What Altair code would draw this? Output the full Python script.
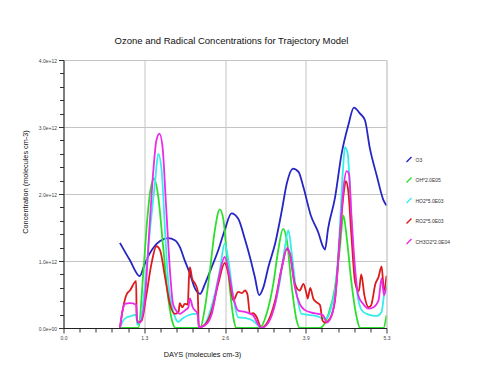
import altair as alt
import pandas as pd

FONT = "Liberation Sans"
TITLE = "Ozone and Radical Concentrations for Trajectory Model"
X_TITLE = "DAYS (molecules cm-3)"
Y_TITLE = "Concentration (molecules cm-3)"

SERIES = ["O3", "OH*2.0E05", "HO2*5.0E03", "RO2*5.0E03", "CH3O2*2.0E04"]
COLORS = ["#2626c4", "#2ede2e", "#38ecec", "#dc1c1c", "#ea2cea"]

# values in units of 1e12 molecules cm-3
O3_X = [0.917, 1.08, 1.24, 1.31, 1.40, 1.57, 1.70, 1.81, 1.89, 1.97, 2.055, 2.137, 2.22, 2.30, 2.41,
        2.515, 2.62, 2.73, 2.84, 2.95, 3.03, 3.11, 3.18, 3.25, 3.33, 3.44, 3.55, 3.63, 3.73, 3.82,
        3.90, 4.02, 4.14, 4.22, 4.25, 4.30, 4.41, 4.52, 4.63, 4.72, 4.82, 4.90, 4.98, 5.09, 5.20, 5.25]
O3_Y = [1.27, 1.01, 0.775, 0.93, 1.11, 1.30, 1.34, 1.31, 1.21, 1.01, 0.81, 0.59, 0.51, 0.66, 0.91,
        1.16, 1.46, 1.71, 1.63, 1.32, 1.06, 0.76, 0.49, 0.61, 0.91, 1.26, 1.76, 2.16, 2.38, 2.33,
        2.10, 1.68, 1.43, 1.21, 1.17, 1.48, 1.93, 2.60, 3.03, 3.29, 3.20, 3.10, 2.68, 2.28, 1.91, 1.83]

OH_X = [0.917, 1.215, 1.30, 1.36, 1.42, 1.475, 1.54, 1.62, 1.70, 1.78, 1.82, 2.22, 2.30, 2.38, 2.46,
        2.54, 2.60, 2.68, 2.76, 2.81, 3.19, 3.30, 3.41, 3.49, 3.57, 3.63, 3.71, 3.79, 3.84, 4.17,
        4.30, 4.41, 4.49, 4.55, 4.60, 4.68, 4.77, 4.82, 5.20, 5.25]
OH_Y = [0, 0, 0.86, 1.61, 2.10, 2.23, 1.96, 1.21, 0.46, 0.06, 0, 0, 0.31, 0.86, 1.46,
        1.77, 1.61, 0.81, 0.16, 0, 0, 0.21, 0.66, 1.16, 1.48, 1.31, 0.61, 0.11, 0, 0,
        0.19, 0.59, 1.18, 1.68, 1.38, 0.68, 0.14, 0, 0, 0.19]

HO2_X = [0.917, 0.97, 1.03, 1.11, 1.18, 1.20, 1.25, 1.32, 1.405, 1.49, 1.54, 1.595, 1.65, 1.70, 1.78,
         1.84, 1.87, 1.92, 2.03, 2.14, 2.18, 2.20, 2.27, 2.35, 2.46, 2.54, 2.62, 2.68, 2.76, 2.84,
         2.95, 3.08, 3.16, 3.21, 3.30, 3.41, 3.52, 3.60, 3.655, 3.71, 3.79, 3.87, 3.95, 4.03, 4.14,
         4.22, 4.28, 4.36, 4.44, 4.49, 4.54, 4.575, 4.62, 4.66, 4.71, 4.77, 4.85, 4.93, 5.00, 5.09,
         5.17, 5.21, 5.25]
HO2_Y = [0, 0.11, 0.16, 0.18, 0.20, 0.05, 0.10, 0.61, 1.46, 2.20, 2.60, 2.35, 1.46, 0.71, 0.26,
         0.11, 0.09, 0.13, 0.19, 0.21, 0.21, 0.01, 0.03, 0.16, 0.51, 0.86, 1.26, 1.01, 0.46, 0.16,
         0.15, 0.11, 0.04, 0, 0.06, 0.26, 0.71, 1.21, 1.46, 1.11, 0.51, 0.21, 0.20, 0.19, 0.17,
         0.14, 0.15, 0.34, 0.78, 1.48, 2.33, 2.70, 2.60, 1.98, 1.08, 0.54, 0.26, 0.21, 0.19, 0.18,
         0.24, 0.49, 0.64]

RO2_X = [0.917, 0.97, 1.03, 1.08, 1.18, 1.19, 1.215, 1.27, 1.35, 1.43, 1.51, 1.57, 1.65, 1.73, 1.81,
         1.87, 1.89, 1.93, 1.97, 2.02, 2.04, 2.055, 2.09, 2.14, 2.18, 2.20, 2.30, 2.41, 2.515, 2.62,
         2.68, 2.76, 2.84, 2.90, 2.95, 2.99, 3.03, 3.08, 3.14, 3.19, 3.21, 3.33, 3.44, 3.55, 3.63,
         3.68, 3.76, 3.84, 3.90, 3.95, 3.97, 4.01, 4.06, 4.12, 4.17, 4.21, 4.25, 4.33, 4.41, 4.49,
         4.55, 4.59, 4.63, 4.68, 4.74, 4.80, 4.84, 4.89, 4.96, 5.00, 5.07, 5.12, 5.17, 5.21, 5.25]
RO2_Y = [0, 0.31, 0.51, 0.56, 0.70, 0.16, 0.08, 0.11, 0.51, 0.96, 1.22, 1.16, 0.76, 0.36, 0.21,
         0.24, 0.37, 0.31, 0.36, 0.35, 0.76, 0.91, 0.74, 0.66, 0.56, 0.01, 0.05, 0.26, 0.66, 0.97,
         0.81, 0.41, 0.54, 0.52, 0.56, 0.50, 0.21, 0.22, 0.16, 0.04, 0, 0.11, 0.41, 0.91, 1.18,
         1.11, 0.66, 0.56, 0.66, 0.51, 0.44, 0.60, 0.44, 0.38, 0.34, 0.11, 0.08, 0.14, 0.39, 1.33,
         1.98, 2.19, 2.03, 1.38, 0.68, 0.55, 0.80, 0.49, 0.31, 0.34, 0.66, 0.76, 0.92, 0.56, 0.78]

CH3O2_X = [0.917, 0.96, 1.00, 1.08, 1.18, 1.20, 1.24, 1.32, 1.405, 1.46, 1.51, 1.56, 1.61, 1.665, 1.73,
           1.78, 1.84, 1.89, 1.97, 2.03, 2.055, 2.10, 2.18, 2.20, 2.30, 2.41, 2.515, 2.62, 2.68, 2.76,
           2.84, 2.95, 3.08, 3.16, 3.21, 3.33, 3.44, 3.55, 3.64, 3.69, 3.76, 3.84, 3.92, 4.03, 4.14,
           4.22, 4.28, 4.36, 4.44, 4.49, 4.55, 4.60, 4.64, 4.68, 4.74, 4.79, 4.87, 4.96, 5.04, 5.12,
           5.17, 5.21, 5.25]
CH3O2_Y = [0, 0.26, 0.36, 0.37, 0.35, 0.11, 0.08, 0.41, 1.61, 2.35, 2.80, 2.90, 2.70, 1.86, 0.86,
           0.36, 0.25, 0.21, 0.26, 0.31, 0.44, 0.31, 0.21, 0.01, 0.04, 0.21, 0.71, 1.06, 0.86, 0.46,
           0.26, 0.24, 0.19, 0.06, 0, 0.08, 0.36, 0.91, 1.20, 1.06, 0.61, 0.36, 0.27, 0.23, 0.21,
           0.19, 0.08, 0.19, 0.68, 1.33, 2.08, 2.34, 2.30, 1.68, 0.88, 0.49, 0.36, 0.29, 0.31, 0.41,
           0.74, 0.49, 0.61]

X_TICKS = [i * 0.2625 for i in range(21)]
Y_TICKS = [i * 2e11 for i in range(21)]

rows = []
for name, xs, ys in zip(SERIES, [O3_X, OH_X, HO2_X, RO2_X, CH3O2_X],
                        [O3_Y, OH_Y, HO2_Y, RO2_Y, CH3O2_Y]):
    for i, (x, y) in enumerate(zip(xs, ys)):
        rows.append({"series": name, "day": x, "conc": y * 1e12, "idx": i})
df = pd.DataFrame(rows)

x_major = "abs(datum.value/1.3125 - round(datum.value/1.3125)) < 1e-6"
y_major = "datum.value % 1e12 === 0"

x_axis = alt.Axis(
    values=X_TICKS,
    labelExpr=f"{x_major} ? format(datum.value, '.1f') : ''",
    labelOverlap=False, labelFlush=False,
    labelFont=FONT, labelFontSize=5, labelColor="#444", labelPadding=2,
    tickSize={"condition": {"test": x_major, "value": 5}, "value": 4},
    tickColor="#333", domainColor="#222", domainWidth=1,
    grid=True, gridColor="#c4c4c4", gridWidth=1,
    gridOpacity={"condition": {"test": x_major, "value": 1}, "value": 0},
    title=X_TITLE, titleFont=FONT, titleFontSize=7.3, titleFontWeight="normal", titleColor="#111",
    titleX=138.5, titleY=26, titleAlign="center", titleBaseline="middle",
)
y_axis = alt.Axis(
    values=Y_TICKS,
    labelExpr=f"{y_major} ? (datum.value === 0 ? '0.0e+00' : format(datum.value, '.1e')) : ''",
    labelOverlap=False, labelFlush=False,
    labelFont=FONT, labelFontSize=5, labelColor="#444", labelPadding=2,
    tickSize={"condition": {"test": y_major, "value": 5}, "value": 4},
    tickColor="#333", domainColor="#222", domainWidth=1,
    grid=True, gridColor="#c4c4c4", gridWidth=1,
    gridOpacity={"condition": {"test": y_major, "value": 1}, "value": 0},
    title=Y_TITLE, titleFont=FONT, titleFontSize=7.3, titleFontWeight="normal", titleColor="#111",
    titleX=-38.5, titleY=121.5, titleAngle=270, titleAlign="center", titleBaseline="middle",
)

chart = alt.Chart(df).mark_line(strokeWidth=1.8, clip=True, interpolate="monotone").encode(
    x=alt.X("day:Q", scale=alt.Scale(domain=[0, 5.25], nice=False, zero=False), axis=x_axis),
    y=alt.Y("conc:Q", scale=alt.Scale(domain=[0, 4e12], nice=False), axis=y_axis),
    color=alt.Color("series:N", scale=alt.Scale(domain=SERIES, range=COLORS),
                    legend=alt.Legend(title=None, orient="none", legendX=342, legendY=96,
                                      symbolType="M-1,1L1,-1", symbolSize=25, symbolStrokeWidth=1.5,
                                      labelFont=FONT, labelFontSize=5, labelColor="#333",
                                      rowPadding=15.5 - 6, labelOffset=3, padding=0)),
    order=alt.Order("idx:Q"),
    detail="series:N",
).properties(
    width=323, height=268,
    title=alt.TitleParams(TITLE, font=FONT, fontSize=9.5, fontWeight="normal", color="#111",
                          offset=13, dx=6.5),
    padding={"left": 55.5, "top": 52, "right": 85.5, "bottom": 36},
    autosize=alt.AutoSizeParams(type="none"),
).configure_view(strokeWidth=0).configure(background="white")

chart.save("out.html", embed_options={"renderer": "svg", "actions": False})
